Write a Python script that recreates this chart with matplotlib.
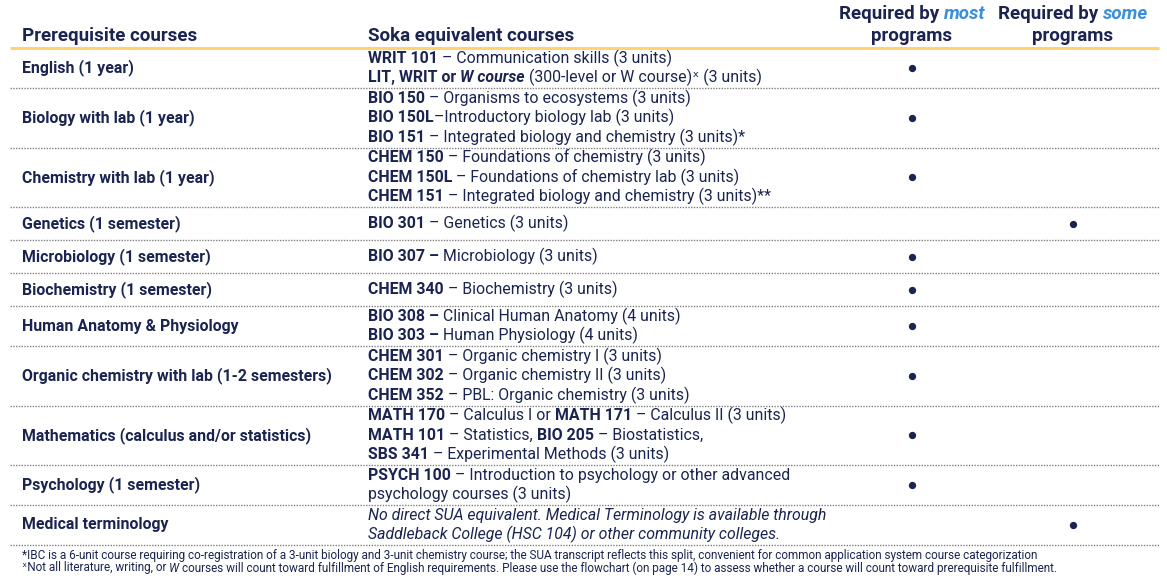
import re
import matplotlib
matplotlib.use('Agg')
import matplotlib.pyplot as plt

plt.rcParams['font.family'] = ['Roboto', 'DejaVu Sans']

# colours
navy = '#1b2450'
blue = '#3a8fdc'
gold = '#ffd36e'
dotgrey = '#808080'

# table content (** bold, *** bold italic, _ italic)
headers = ["Prerequisite courses", "Soka equivalent courses",
           "Required by _most_", "Required by _some_"]
header_sub = "programs"

prereq = ["English (1 year)",
          "Biology with lab (1 year)",
          "Chemistry with lab (1 year)",
          "Genetics (1 semester)",
          "Microbiology (1 semester)",
          "Biochemistry (1 semester)",
          "Human Anatomy & Physiology",
          "Organic chemistry with lab (1-2 semesters)",
          "Mathematics (calculus and/or statistics)",
          "Psychology (1 semester)",
          "Medical terminology"]

equivalents = [
    ["**WRIT 101** – Communication skills (3 units)",
     "**LIT, WRIT or** ***W course*** (300-level or W course)ˣ (3 units)"],
    ["**BIO 150** – Organisms to ecosystems (3 units)",
     "**BIO 150L**–Introductory biology lab (3 units)",
     "**BIO 151** – Integrated biology and chemistry (3 units)*"],
    ["**CHEM 150** – Foundations of chemistry (3 units)",
     "**CHEM 150L** – Foundations of chemistry lab (3 units)",
     "**CHEM 151** – Integrated biology and chemistry (3 units)**"],
    ["**BIO 301** – Genetics (3 units)"],
    ["**BIO 307 –** Microbiology (3 units)"],
    ["**CHEM 340** – Biochemistry (3 units)"],
    ["**BIO 308 –** Clinical Human Anatomy (4 units)",
     "**BIO 303 –** Human Physiology (4 units)"],
    ["**CHEM 301** – Organic chemistry I (3 units)",
     "**CHEM 302** – Organic chemistry II (3 units)",
     "**CHEM 352** – PBL: Organic chemistry (3 units)"],
    ["**MATH 170** – Calculus I or **MATH 171** – Calculus II (3 units)",
     "**MATH 101** – Statistics, **BIO 205** – Biostatistics,",
     "**SBS 341** – Experimental Methods (3 units)"],
    ["**PSYCH 100** – Introduction to psychology or other advanced",
     "psychology courses (3 units)"],
    ["_No direct SUA equivalent. Medical Terminology is available through_",
     "_Saddleback College (HSC 104) or other community colleges._"],
]

req_most = [1, 1, 1, 0, 1, 1, 1, 1, 1, 1, 0]
req_some = [0, 0, 0, 1, 0, 0, 0, 0, 0, 0, 1]

footnotes = [
    "*IBC is a 6-unit course requiring co-registration of a 3-unit biology and 3-unit chemistry course; "
    "the SUA transcript reflects this split, convenient for common application system course categorization",
    "ˣNot all literature, writing, or _W_ courses will count toward fulfillment of English requirements. "
    "Please use the flowchart (on page 14) to assess whether a course will count toward prerequisite fulfillment.",
]

# layout
W, H = 1167, 585
fig = plt.figure(figsize=(W / 100, H / 100), dpi=100)
ax = fig.add_axes([0, 0, 1, 1])
ax.set_xlim(0, W)
ax.set_ylim(H, 0)
ax.axis('off')
renderer = fig.canvas.get_renderer()

col_x = [22, 368, 912, 1073]
body_size = 11.4
head_size = 13.5
line_h = 19.5


def parse(line):
    runs = []
    for piece in re.split(r'(\*\*\*.+?\*\*\*|\*\*.+?\*\*|_.+?_)', line):
        if not piece:
            continue
        if piece.startswith('***'):
            runs.append((piece[3:-3], True, True))
        elif piece.startswith('**'):
            runs.append((piece[2:-2], True, False))
        elif piece.startswith('_'):
            runs.append((piece[1:-1], False, True))
        else:
            runs.append((piece, False, False))
    return runs


_bar = {}


def advance(s, size, bold, italic):
    kw = dict(fontsize=size, fontweight='bold' if bold else 'normal',
              fontstyle='italic' if italic else 'normal')
    key = (size, bold, italic)
    if key not in _bar:
        t = ax.text(0, 0, '||', **kw)
        _bar[key] = t.get_window_extent(renderer).width
        t.remove()
    t = ax.text(0, 0, '|' + s + '|', **kw)
    w = t.get_window_extent(renderer).width
    t.remove()
    return w - _bar[key]


def draw_line(x, y, line, size, ha='left', bold=False, accent=None):
    runs = parse(line)
    widths = [advance(txt, size, bold or b, i) for txt, b, i in runs]
    if ha == 'center':
        x -= sum(widths) / 2
    for (txt, b, i), w in zip(runs, widths):
        stripped = txt.lstrip(' ')
        lead = advance(txt[:len(txt) - len(stripped)], size, bold or b, i) if stripped != txt else 0
        color = accent if (i and accent) else navy
        ax.text(x + lead, y, stripped.rstrip(' '), fontsize=size, color=color,
                fontweight='bold' if (bold or b) else 'normal',
                fontstyle='italic' if i else 'normal', va='center', ha='left')
        x += w
    return sum(widths)


# header
draw_line(col_x[0], 36, headers[0], head_size, bold=True)
draw_line(col_x[1], 36, headers[1], head_size, bold=True)
for k in (2, 3):
    draw_line(col_x[k], 14, headers[k], head_size, ha='center', bold=True, accent=blue)
    draw_line(col_x[k], 36, header_sub, head_size, ha='center', bold=True)
ax.hlines(48, 10, 1159, colors=gold, lw=2.2)

# rows
top = 48
seps = []
for label, lines, m, s in zip(prereq, equivalents, req_most, req_some):
    n = len(lines)
    h = max(33, line_h * n + 1)
    yc = top + h / 2
    draw_line(col_x[0], yc, label, body_size, bold=True)
    for j, ln in enumerate(lines):
        draw_line(col_x[1], yc + (j - (n - 1) / 2) * line_h, ln, body_size)
    if m:
        ax.scatter([col_x[2]], [yc], s=18, color=navy, zorder=3)
    if s:
        ax.scatter([col_x[3]], [yc], s=18, color=navy, zorder=3)
    top += h
    seps.append(top)
ax.hlines(seps, 10, 1159, colors=dotgrey, lw=1.0, linestyles=(0, (1, 1)))

# footnotes, sized to the printed width
foot_size = 8
w0 = sum(advance(t, foot_size, b, i) for t, b, i in parse(footnotes[0]))
foot_size = foot_size * 1031 / w0
draw_line(col_x[0], top + 10, footnotes[0], foot_size)
draw_line(col_x[0], top + 23, footnotes[1], foot_size)

fig.savefig('out.png', dpi=100, facecolor='white')
